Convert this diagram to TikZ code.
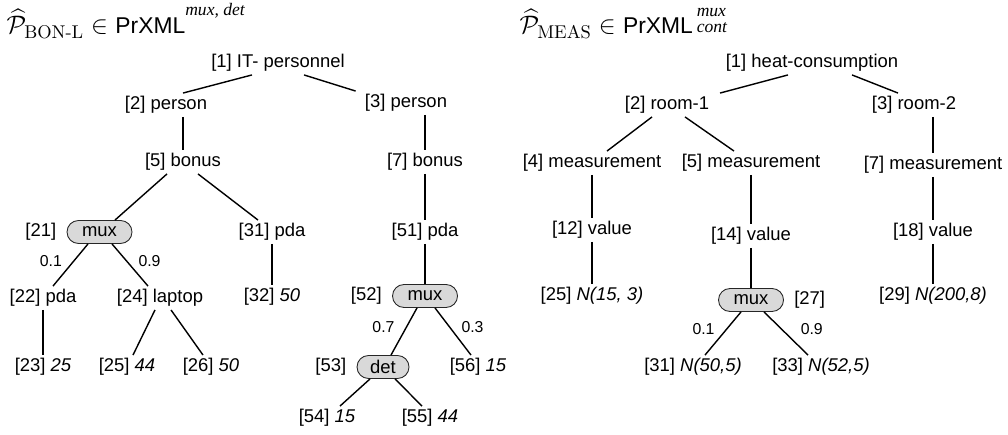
\documentclass[tikz,border=0pt]{standalone}
\usepackage{amsmath}
\usepackage{fontspec}
\usetikzlibrary{positioning}
\newfontfamily\helv{Liberation Sans}
\newfontfamily\tms{Liberation Serif}
\newcommand{\pbon}{{\fontsize{15}{18}\selectfont$\widehat{\mathcal{P}}_{\mathrm{BON\text{-}L}} \in$}}
\newcommand{\pmeas}{{\fontsize{15}{18}\selectfont$\widehat{\mathcal{P}}_{\mathrm{MEAS}} \in$}}
\newcommand{\scr}[1]{{\tms\itshape\fontsize{10}{12}\selectfont #1}}
\tikzset{
    elem/.style={inner sep=1.5pt, font=\helv\fontsize{10.5}{12}\selectfont},
    muxbox/.style={elem, draw=black!85, line width=0.5pt, fill=black!15, rounded corners=2.3mm,
        minimum width=1.3cm, minimum height=0.46cm, inner sep=0pt},
    prob/.style={inner sep=1.5pt, font=\helv\fontsize{9}{10}\selectfont},
    ttl/.style={anchor=base west, inner sep=0pt, font=\fontsize{13}{15}\selectfont},
    every label/.style={elem},
}

\begin{document}
\begin{tikzpicture}[on grid, line width=0.8pt, label distance=4pt]
            \useasboundingbox (0,0) rectangle (20.16,-8.70);
            \node[ttl] (tb) at (0.12,-0.68) {\pbon\ {\helv PrXML}\raisebox{10.5pt}{\scr{mux, det}}};
            \node[ttl] (tm) at (10.38,-0.68) {\pmeas\ {\helv PrXML}\,\rlap{\raisebox{10pt}{\scr{mux}}}\raisebox{1pt}{\scr{cont}}};

            \node[elem] (b1) at (5.56,-1.26) {[1] IT- personnel};
            \node[elem, below left=0.84cm and 2.24cm of b1] (b2) {[2] person};
            \node[elem, below right=0.80cm and 2.56cm of b1] (b3) {[3] person};
            \node[elem, below right=1.14cm and 0.34cm of b2] (b5) {[5] bonus};
            \node[elem, below right=1.18cm and 0.38cm of b3] (b7) {[7] bonus};
            \node[muxbox, label=left:{[21]}, below left=1.40cm and 1.67cm of b5] (b21) {mux};
            \node[elem, below right=1.40cm and 1.78cm of b5] (b31) {[31] pda};
            \node[elem, below=1.40cm of b7] (b51) {[51] pda};
            \node[muxbox, label=left:{[52]}, below=1.28cm of b51] (b52) {mux};
            \node[muxbox, minimum width=1.04cm, label=left:{[53]}, below left=1.42cm and 0.84cm of b52] (b53) {det};
            \node[elem, below right=1.42cm and 1.06cm of b52] (b56) {[56] \textit{15}};
            \node[elem, below left=1.02cm and 1.12cm of b53] (b54) {[54] \textit{15}};
            \node[elem, below right=1.02cm and 0.94cm of b53] (b55) {[55] \textit{44}};
            \node[elem, below left=1.32cm and 1.13cm of b21] (b22) {[22] pda};
            \node[elem, below right=1.32cm and 1.21cm of b21] (b24) {[24] laptop};
            \node[elem, below=1.38cm of b22] (b23) {[23] \textit{25}};
            \node[elem, below left=1.38cm and 0.66cm of b24] (b25) {[25] \textit{44}};
            \node[elem, below right=1.38cm and 1.02cm of b24] (b26) {[26] \textit{50}};
            \node[elem, below=1.30cm of b31] (b32) {[32] \textit{50}};

            \draw ([xshift=-0.52cm]b1.south) -- ([xshift=0.34cm]b2.north);
            \draw ([xshift=0.52cm]b1.south) -- ([xshift=-0.12cm]b3.north west);
            \draw ([xshift=0.34cm]b2.south) -- (b5.north);
            \draw ([xshift=0.38cm]b3.south) -- (b7.north);
            \draw ([xshift=-0.32cm]b5.south) -- ([xshift=0.31cm]b21.north);
            \draw ([xshift=0.30cm]b5.south) -- ([xshift=-0.28cm]b31.north);
            \draw (b7.south) -- (b51.north);
            \draw (b51.south) -- (b52.north);
            \draw (b31.south) -- (b32.north);
            \draw ([xshift=-0.23cm]b21.south) -- ([xshift=0.20cm]b22.north) node[prob, pos=0.4, left=5pt] {0.1};
            \draw ([xshift=0.25cm]b21.south) -- ([xshift=-0.24cm]b24.north) node[prob, pos=0.4, right=5pt] {0.9};
            \draw (b22.south) -- (b23.north);
            \draw ([xshift=-0.10cm]b24.south) -- ([xshift=0.12cm]b25.north);
            \draw ([xshift=0.22cm]b24.south) -- ([xshift=-0.16cm]b26.north);
            \draw ([xshift=-0.16cm]b52.south) -- ([xshift=0.16cm]b53.north) node[prob, pos=0.4, left=5pt] {0.7};
            \draw ([xshift=0.20cm]b52.south) -- ([xshift=-0.14cm]b56.north) node[prob, pos=0.4, right=5pt] {0.3};
            \draw ([xshift=-0.26cm]b53.south) -- ([xshift=0.26cm]b54.north);
            \draw ([xshift=0.24cm]b53.south) -- ([xshift=-0.16cm]b55.north);

            \node[elem] (m1) at (16.24,-1.26) {[1] heat-consumption};
            \node[elem, below left=0.84cm and 2.90cm of m1] (m2) {[2] room-1};
            \node[elem, below right=0.84cm and 2.04cm of m1] (m3) {[3] room-2};
            \node[elem, below left=1.16cm and 1.50cm of m2] (m4) {[4] measurement};
            \node[elem, below right=1.16cm and 1.68cm of m2] (m5) {[5] measurement};
            \node[elem, below right=1.20cm and 0.38cm of m3] (m7) {[7] measurement};
            \node[elem, below=1.34cm of m4] (m12) {[12] value};
            \node[elem, below=1.46cm of m5] (m14) {[14] value};
            \node[elem, below=1.34cm of m7] (m18) {[18] value};
            \node[elem, below=1.32cm of m12] (m25) {[25] \textit{N(15, 3)}};
            \node[muxbox, label=right:{[27]}, below=1.28cm of m14] (m27) {mux};
            \node[elem, below=1.28cm of m18] (m29) {[29] \textit{N(200,8)}};
            \node[elem, below left=1.34cm and 1.16cm of m27] (m31) {[31] \textit{N(50,5)}};
            \node[elem, below right=1.34cm and 1.40cm of m27] (m33) {[33] \textit{N(52,5)}};

            \draw ([xshift=-0.48cm]m1.south) -- ([xshift=1.06cm]m2.north);
            \draw ([xshift=0.80cm]m1.south) -- ([xshift=-0.32cm]m3.north);
            \draw ([xshift=-0.30cm]m2.south) -- ([xshift=0.30cm]m4.north);
            \draw ([xshift=0.36cm]m2.south) -- ([xshift=-0.34cm]m5.north);
            \draw ([xshift=0.38cm]m3.south) -- (m7.north);
            \draw (m4.south) -- (m12.north);
            \draw (m5.south) -- (m14.north);
            \draw (m7.south) -- (m18.north);
            \draw (m12.south) -- (m25.north);
            \draw (m14.south) -- (m27.north);
            \draw (m18.south) -- (m29.north);
            \draw ([xshift=-0.20cm]m27.south) -- ([xshift=0.24cm]m31.north) node[prob, pos=0.4, left=5pt] {0.1};
            \draw ([xshift=0.26cm]m27.south) -- ([xshift=-0.26cm]m33.north) node[prob, pos=0.4, right=9pt] {0.9};
        \end{tikzpicture}
\end{document}
